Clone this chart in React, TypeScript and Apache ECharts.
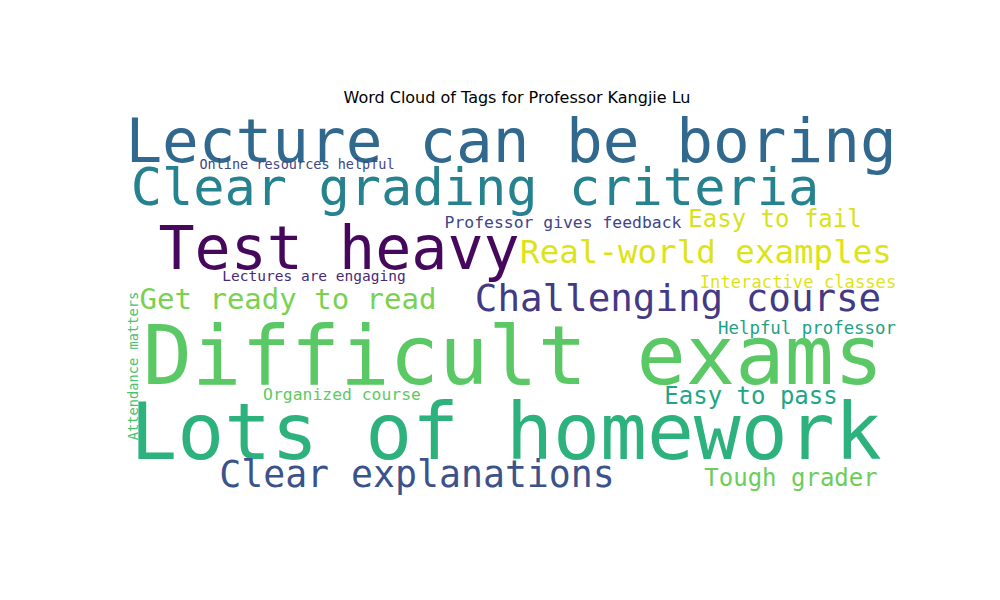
import { useEffect, useRef } from "react"
import * as echarts from "echarts"

const words = [
  "Lecture can be boring", "Clear grading criteria", "Test heavy", "Difficult exams",
  "Lots of homework", "Clear explanations", "Challenging course", "Real-world examples",
  "Get ready to read", "Easy to fail", "Easy to pass", "Tough grader",
  "Professor gives feedback", "Interactive classes", "Helpful professor",
  "Online resources helpful", "Lectures are engaging", "Organized course", "Attendance matters",
]
const centerX = [511, 475, 339, 513, 506, 417, 678, 706, 288, 775, 751, 791, 563, 798, 807, 297, 314, 342, 133]
const centerY = [140, 187, 248, 355, 432, 474, 298, 252, 299, 219, 396, 478, 222, 282, 328, 164, 276, 394, 366]
const fontSizes = [61, 52, 60, 82, 78, 36.5, 37.5, 32.5, 29, 24, 24, 24, 16.4, 17.2, 17.4, 13.5, 14.5, 16.4, 13.7]
const rotations = [0, 0, 0, 0, 0, 0, 0, 0, 0, 0, 0, 0, 0, 0, 0, 0, 0, 0, 90]
const colors = [
  "#31688e", "#26828e", "#46085c", "#5ac864", "#2db27d", "#3b528b", "#443983", "#dde318",
  "#7ad151", "#d8e219", "#21a685", "#6ccd5a", "#414487", "#dfe318", "#1fa187",
  "#404688", "#482878", "#5ec962", "#4ac16d",
]

export default function App() {
  const chartRef = useRef<HTMLDivElement>(null)

  useEffect(() => {
    if (!chartRef.current) return
    const chart = echarts.init(chartRef.current, null, { renderer: "svg" })
    chart.setOption({
      animation: false,
      backgroundColor: "#fff",
      title: {
        text: "Word Cloud of Tags for Professor Kangjie Lu",
        left: 512, top: 84, textAlign: "center",
        textStyle: { fontFamily: "DejaVu Sans", fontWeight: "normal", fontSize: 16, color: "#000" },
      },
      grid: { left: 0, right: 0, top: 0, bottom: 0 },
      xAxis: { type: "value", min: 0, max: 1000, show: false },
      yAxis: { type: "value", min: 0, max: 600, inverse: true, show: false },
      series: [{
        type: "scatter",
        symbolSize: 0,
        itemStyle: { opacity: 1 },
        emphasis: { disabled: true },
        data: words.map((w, i) => ({
          name: w,
          value: [centerX[i], centerY[i]],
          label: {
            show: true,
            formatter: w,
            position: "inside",
            align: "center",
            verticalAlign: "middle",
            rotate: rotations[i],
            fontFamily: "DejaVu Sans Mono",
            fontSize: fontSizes[i],
            color: colors[i],
          },
        })),
      }],
    })
    return () => chart.dispose()
  }, [])

  return <div ref={chartRef} style={{ width: 1000, height: 600, margin: -8 }} />
}
